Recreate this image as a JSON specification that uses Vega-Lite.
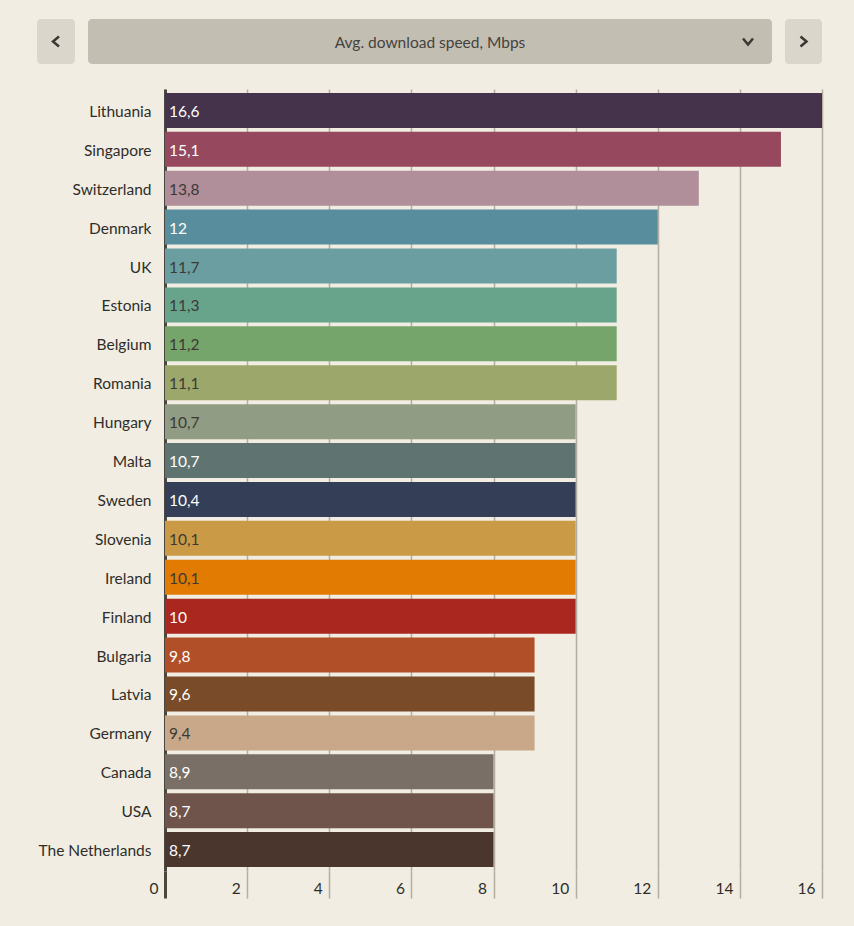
{
  "$schema": "https://vega.github.io/schema/vega-lite/v6.json",
  "background": "#f1ede2",
  "padding": {"top": 19, "left": 37, "right": 32, "bottom": 26},
  "autosize": {"type": "pad"},
  "config": {
    "font": "Lato",
    "view": {"stroke": null},
    "locale": {"number": {"decimal": ",", "thousands": " ", "grouping": [3], "currency": ["", ""]}}
  },
  "datasets": {
    "one": [{"item": "control"}],
    "speeds": [
      {"country": "Lithuania", "speed": 16.6, "bar_mbps": 16},
      {"country": "Singapore", "speed": 15.1, "bar_mbps": 15},
      {"country": "Switzerland", "speed": 13.8, "bar_mbps": 13},
      {"country": "Denmark", "speed": 12, "bar_mbps": 12},
      {"country": "UK", "speed": 11.7, "bar_mbps": 11},
      {"country": "Estonia", "speed": 11.3, "bar_mbps": 11},
      {"country": "Belgium", "speed": 11.2, "bar_mbps": 11},
      {"country": "Romania", "speed": 11.1, "bar_mbps": 11},
      {"country": "Hungary", "speed": 10.7, "bar_mbps": 10},
      {"country": "Malta", "speed": 10.7, "bar_mbps": 10},
      {"country": "Sweden", "speed": 10.4, "bar_mbps": 10},
      {"country": "Slovenia", "speed": 10.1, "bar_mbps": 10},
      {"country": "Ireland", "speed": 10.1, "bar_mbps": 10},
      {"country": "Finland", "speed": 10, "bar_mbps": 10},
      {"country": "Bulgaria", "speed": 9.8, "bar_mbps": 9},
      {"country": "Latvia", "speed": 9.6, "bar_mbps": 9},
      {"country": "Germany", "speed": 9.4, "bar_mbps": 9},
      {"country": "Canada", "speed": 8.9, "bar_mbps": 8},
      {"country": "USA", "speed": 8.7, "bar_mbps": 8},
      {"country": "The Netherlands", "speed": 8.7, "bar_mbps": 8}
    ]
  },
  "spacing": 25,
  "vconcat": [
    {
      "hconcat": [
        {
          "width": 38,
          "height": 45,
          "view": {"fill": "#dad6cc", "cornerRadius": 4, "stroke": null},
          "data": {"name": "one"},
          "mark": {"type": "point", "shape": "M0.6,-1L-0.6,0L0.6,1", "size": 100, "filled": false, "stroke": "#3b3834", "strokeWidth": 2.5, "opacity": 1},
          "encoding": {}
        },
        {
          "width": 684,
          "height": 45,
          "view": {"fill": "#c3beb2", "cornerRadius": 4, "stroke": null},
          "data": {"name": "one"},
          "layer": [
            {
              "mark": {"type": "text", "text": "Avg. download speed, Mbps", "fontSize": 15.5, "color": "#45423d", "baseline": "middle", "align": "center", "dy": 1.5},
              "encoding": {}
            },
            {
              "mark": {"type": "point", "x": "width", "shape": "M-5.8,-0.6L-4.8,0.6L-3.8,-0.6", "size": 100, "filled": false, "stroke": "#3b3834", "strokeWidth": 2.5, "opacity": 1},
              "encoding": {}
            }
          ]
        },
        {
          "width": 37,
          "height": 45,
          "view": {"fill": "#dad6cc", "cornerRadius": 4, "stroke": null},
          "data": {"name": "one"},
          "mark": {"type": "point", "shape": "M-0.6,-1L0.6,0L-0.6,1", "size": 100, "filled": false, "stroke": "#3b3834", "strokeWidth": 2.5, "opacity": 1},
          "encoding": {}
        }
      ],
      "spacing": 13
    },
    {
      "width": 785,
      "height": 782,
      "data": {"name": "speeds"},
      "encoding": {
        "y": {
          "field": "country",
          "type": "nominal",
          "sort": null,
          "scale": {"paddingInner": 0.1, "paddingOuter": 0.1},
          "axis": {
            "title": null,
            "offset": -128,
            "domain": true,
            "domainColor": "#4a4640",
            "domainWidth": 3,
            "ticks": false,
            "grid": false,
            "labelPadding": 14,
            "labelOffset": 1.5,
            "labelFontSize": 15.5,
            "labelColor": "#2f2d2a"
          }
        }
      },
      "layer": [
        {
          "mark": {"type": "bar"},
          "encoding": {
            "x": {
              "field": "bar_mbps",
              "type": "quantitative",
              "scale": {"domain": [0, 16], "nice": false, "range": [128, 785]},
              "axis": {
                "title": null,
                "values": [0, 2, 4, 6, 8, 10, 12, 14, 16],
                "grid": true,
                "gridColor": "#b3ada2",
                "gridWidth": 1.5,
                "domain": false,
                "ticks": true,
                "tickSize": 27,
                "tickColor": {"condition": {"test": "datum.value === 0", "value": "#4a4640"}, "value": "#b3ada2"},
                "tickWidth": {"condition": {"test": "datum.value === 0", "value": 3}, "value": 1.5},
                "labelAlign": "right",
                "labelOffset": -7,
                "labelPadding": -17,
                "labelFontSize": 15.5,
                "labelColor": "#2f2d2a",
                "labelFlush": false
              }
            },
            "color": {
              "field": "country",
              "type": "nominal",
              "legend": null,
              "scale": {
                "domain": ["Lithuania", "Singapore", "Switzerland", "Denmark", "UK", "Estonia", "Belgium", "Romania", "Hungary", "Malta", "Sweden", "Slovenia", "Ireland", "Finland", "Bulgaria", "Latvia", "Germany", "Canada", "USA", "The Netherlands"],
                "range": ["#45324b", "#96485e", "#b08e9a", "#578d9c", "#6b9ea0", "#67a48b", "#76a56b", "#9ca76b", "#909c83", "#5f7471", "#343e57", "#cb9a46", "#e27b02", "#a9271e", "#b04f28", "#7a4b28", "#c8a888", "#7a6f66", "#6e544a", "#4a362d"]
              }
            }
          }
        },
        {
          "mark": {"type": "text", "align": "left", "baseline": "middle", "dx": 4, "dy": 1.5, "fontSize": 15.5},
          "encoding": {
            "x": {"datum": 0, "type": "quantitative"},
            "text": {"field": "speed", "type": "quantitative", "format": ".1~f"},
            "color": {
              "condition": {"test": "indexof(['Switzerland','UK','Estonia','Belgium','Romania','Hungary','Slovenia','Ireland','Germany'], datum.country) >= 0", "value": "#3d3a36"},
              "value": "#ffffff"
            }
          }
        }
      ]
    }
  ]
}
